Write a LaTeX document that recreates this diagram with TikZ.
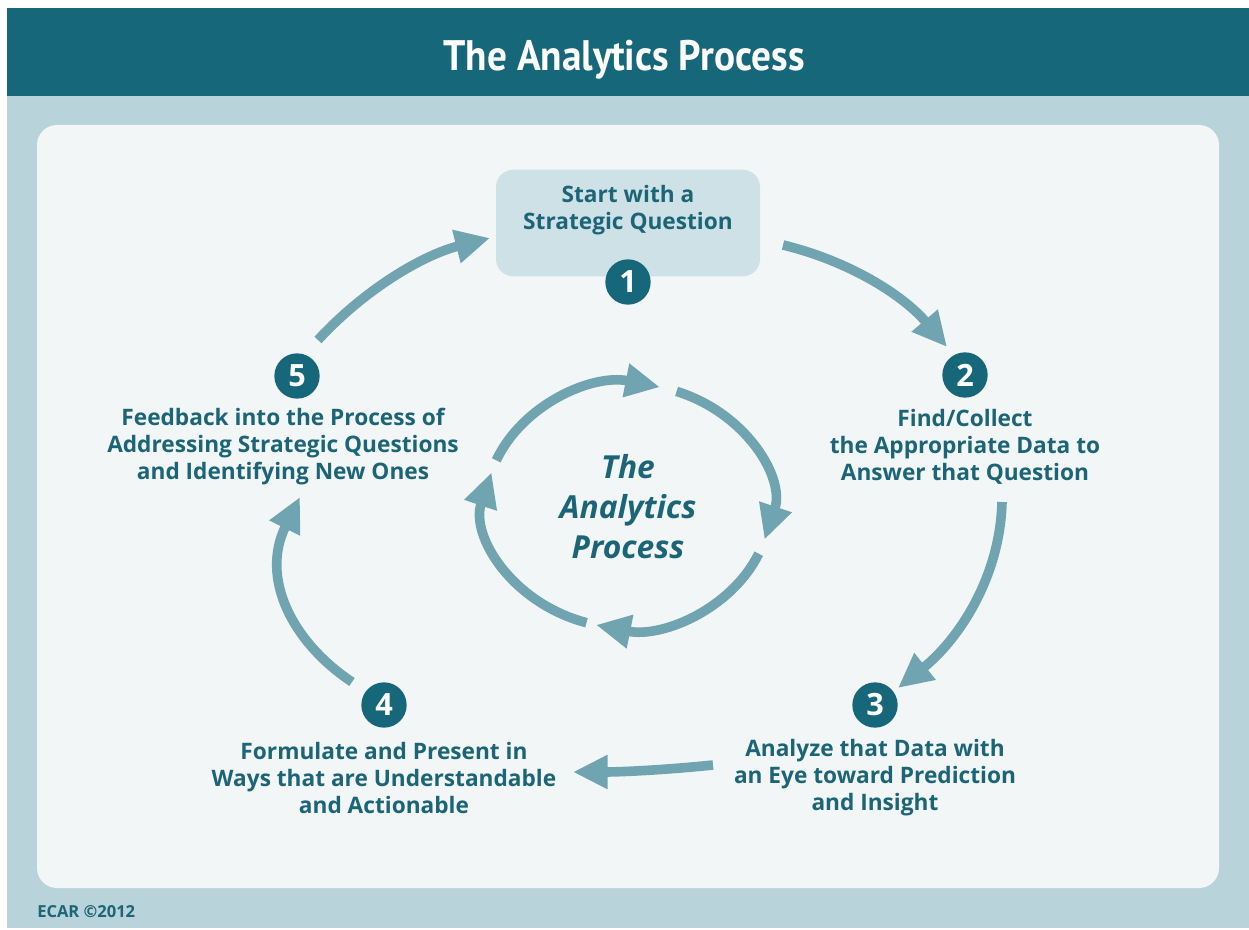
\documentclass[tikz,border=0pt]{standalone}
\usepackage{fontspec}
\setmainfont{Open Sans}
\newfontfamily\titlefont[FakeStretch=0.92]{PT Sans}
\usetikzlibrary{arrows.meta}
\definecolor{ecteal}{RGB}{23,103,122}
\definecolor{ectext}{RGB}{28,101,119}
\definecolor{ecbg}{RGB}{184,211,218}
\definecolor{ecpanel}{RGB}{242,246,247}
\definecolor{ecbox}{RGB}{206,225,230}
\definecolor{ecarrow}{RGB}{112,164,177}
\tikzset{
  num/.style={circle, fill=ecteal, text=white, minimum size=34pt, inner sep=0pt,
    font=\bfseries\fontsize{23}{23}\selectfont},
  lab/.style={align=center, text=ectext, inner sep=0pt,
    font=\bfseries\fontsize{17}{20.25}\selectfont},
  flow/.style={draw=ecarrow, line width=7.2pt, -{Triangle[length=26pt,width=24pt]}},
}
\begin{document}
\begin{tikzpicture}[x=0.75pt,y=-0.75pt]
\useasboundingbox (0,0) rectangle (1249,930);
\fill[white] (0,0) rectangle (1249,930);
\fill[ecbg] (7,8) rectangle (1249,928);
\fill[ecteal] (7,8) rectangle (1249,96);
\node[text=white, font=\titlefont\bfseries\fontsize{32}{38}\selectfont] (title) at (624,60) {The Analytics Process};
\fill[ecpanel, rounded corners=15pt] (37,125) rectangle (1219,888);

% step 1 box
\node[fill=ecbox, rounded corners=13pt, minimum width=198pt, minimum height=80pt, inner sep=0pt] (box1) at (628,223) {};
\node[lab] (t1) at (628,210) {Start with a\\Strategic Question};
\node[num] (n1) at (628,282) {1};

\node[num] (n2) at (965,375) {2};
\node[lab] (t2) at (965,447) {Find/Collect\\the Appropriate Data to\\Answer that Question};

\node[num] (n3) at (875,705) {3};
\node[lab] (t3) at (875,778) {Analyze that Data with\\an Eye toward Prediction\\and Insight};

\node[num] (n4) at (384,705) {4};
\node[lab] (t4) at (384,778) {Formulate and Present in\\Ways that are Understandable\\and Actionable};

\node[num] (n5) at (297,376) {5};
\node[lab] (t5) at (283,447) {Feedback into the Process of\\Addressing Strategic Questions\\and Identifying New Ones};

% centre
\node[align=center, text=ectext, inner sep=0pt, font=\bfseries\itshape\fontsize{23.8}{30}\selectfont] (centre) at (628,507) {The\\Analytics\\Process};

% outer arrows
\coordinate (c5s) at (318,340);
\coordinate (c1e) at (490,238);
\coordinate (c1s) at (783,245);
\coordinate (c2e) at (947,347);
\coordinate (c2s) at (1002,502);
\coordinate (c3e) at (898,688);
\coordinate (c3s) at (713,765);
\coordinate (c4e) at (573,772);
\coordinate (c4s) at (352,682);
\coordinate (c5e) at (300,497);
\draw[flow] (c5s) .. controls (365,289) and (423,255) .. (c1e);
\draw[flow] (c1s) .. controls (849,261) and (903,295) .. (c2e);
\draw[flow] (c2s) .. controls (1000,578) and (958,640) .. (c3e);
\draw[flow] (c3s) .. controls (665,770) and (620,772) .. (c4e);
\draw[flow] (c4s) .. controls (292,642) and (260,578) .. (c5e);

% inner cycle (ellipse centre 628,506; radii 142,122)
\coordinate (i1) at (496.3,460.3);
\coordinate (i2) at (676.6,391.4);
\coordinate (i3) at (758.7,553.7);
\coordinate (i4) at (586.5,622.7);
\draw[flow] (i1) arc[start angle=202, end angle=283, x radius=142, y radius=122];
\draw[flow] (i2) arc[start angle=290, end angle=376, x radius=142, y radius=122];
\draw[flow] (i3) arc[start angle=23, end angle=103, x radius=142, y radius=122];
\draw[flow] (i4) arc[start angle=107, end angle=196, x radius=142, y radius=122];

\node[anchor=west, text=ectext, inner sep=0pt, font=\bfseries\fontsize{12.4}{15}\selectfont] (ecar) at (37,912) {ECAR ©2012};
\end{tikzpicture}
\end{document}
